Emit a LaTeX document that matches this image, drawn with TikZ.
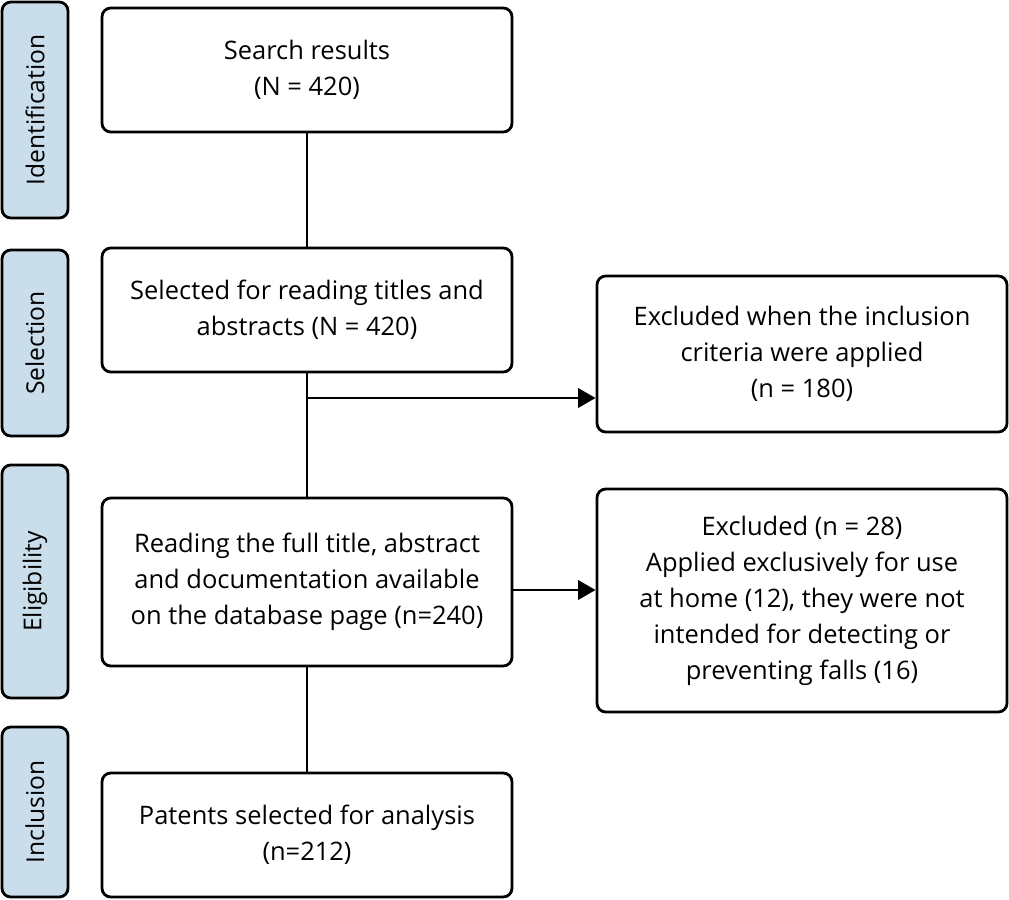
\documentclass[tikz,border=0pt]{standalone}
\usepackage{fontspec}
\setmainfont{Open Sans}
\usetikzlibrary{arrows.meta}
\definecolor{stagefill}{HTML}{C9DEEA}
\tikzset{
  stage/.style={draw,line width=1.6pt,rounded corners=5pt,fill=stagefill,minimum height=66*0.02cm,rotate=90,font=\fontsize{14}{16}\selectfont,inner sep=0pt},
  box/.style={draw,line width=1.6pt,rounded corners=5pt,align=center,font=\fontsize{14.5}{20.5}\selectfont,inner sep=0pt},
  link/.style={draw,line width=1.6pt},
}
\begin{document}
\begin{tikzpicture}[x=0.02cm,y=-0.02cm]
\useasboundingbox (0,0) rectangle (1009,900);
\node[stage,minimum width=216*0.02cm] (s1) at (35,110) {Identification};
\node[stage,minimum width=186*0.02cm] (s2) at (35,343) {Selection};
\node[stage,minimum width=233*0.02cm] (s3) at (35,581.5) {Eligibility};
\node[stage,minimum width=170*0.02cm] (s4) at (35,812) {Inclusion};
\node[box,minimum width=410*0.02cm,minimum height=124*0.02cm] (search) at (307,70) {Search results\\(N = 420)};
\node[box,minimum width=410*0.02cm,minimum height=124*0.02cm] (select) at (307,310) {Selected for reading titles and\\abstracts (N = 420)};
\node[box,minimum width=410*0.02cm,minimum height=168*0.02cm] (read) at (307,582) {Reading the full title, abstract\\and documentation available\\on the database page (n=240)};
\node[box,minimum width=410*0.02cm,minimum height=124*0.02cm] (pat) at (307,835) {Patents selected for analysis\\(n=212)};
\node[box,minimum width=410*0.02cm,minimum height=156*0.02cm] (exc1) at (802,354) {Excluded when the inclusion\\criteria were applied\\(n = 180)};
\node[box,minimum width=410*0.02cm,minimum height=223*0.02cm] (exc2) at (802,600.5) {Excluded (n = 28)\\Applied exclusively for use\\at home (12), they were not\\intended for detecting or\\preventing falls (16)};
\coordinate (split) at (307,398);
\path[link] (search) -- (select);
\path[link] (select) -- (read);
\path[link] (read) -- (pat);
\path[link,-{Triangle[length=10pt,width=11pt]}] (split) -- (split -| exc1.west);
\path[link,-{Triangle[length=10pt,width=11pt]}] (read.east |- 0,590) -- (exc2.west |- 0,590);
\end{tikzpicture}
\end{document}
